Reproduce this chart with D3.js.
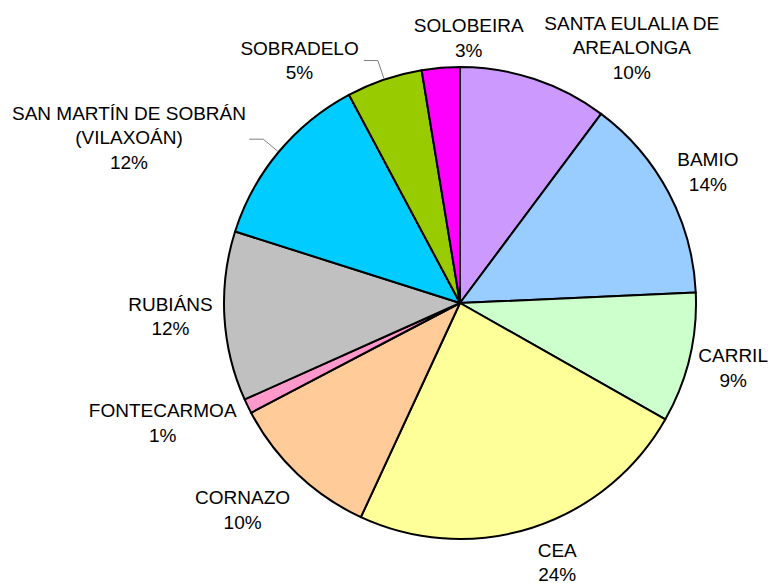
<!doctype html>
<html>
  <head>
    <meta charset="utf-8">
    <title>Pie</title>
    <script src="https://cdn.jsdelivr.net/npm/d3@7"></script>
    <style>
      body { margin: 0; background: #fff; }
      text { font-family: "Liberation Sans", Arial, sans-serif; font-size: 19px; fill: #000; }
    </style>
  </head>
  <body>
    <script>
      const names = [
        'SANTA EULALIA DE\nAREALONGA', 'BAMIO', 'CARRIL', 'CEA', 'CORNAZO',
        'FONTECARMOA', 'RUBIÁNS', 'SAN MARTÍN DE SOBRÁN\n(VILAXOÁN)', 'SOBRADELO', 'SOLOBEIRA'
      ];
      const values = [10.2, 14.1, 8.9, 23.7, 10.4, 1.0, 11.6, 12.3, 5.2, 2.6];
      const colors = [
        '#CC99FF', '#99CCFF', '#CCFFCC', '#FFFF99', '#FFCC99',
        '#FF99CC', '#C0C0C0', '#00CCFF', '#99CC00', '#FF00FF'
      ];
      // labels that get a leader line
      const leaders = ['SAN MARTÍN DE SOBRÁN\n(VILAXOÁN)', 'SOBRADELO'];

      const width = 769, height = 583;
      const cx = 460, cy = 303, r = 236;
      const labelR = 285;
      const lineH = 24.7;
      // label nudges (px) from the point at mid-angle, radius labelR
      const nudge = [[82, 15], [-4, 2], [-4, -2], [10, -12], [-21, 0],
                     [-41, -5], [-5, -3], [-112, 17], [-69, 27], [32, 19]];

      const svg = d3.select('body').append('svg')
          .attr('width', width)
          .attr('height', height);

      const total = d3.sum(values);
      const pie = d3.pie().sort(null).value(d => d);
      const arcs = pie(values);
      const arc = d3.arc().innerRadius(0).outerRadius(r);

      const g = svg.append('g').attr('transform', `translate(${cx},${cy})`);

      g.selectAll('path')
        .data(arcs)
        .enter().append('path')
          .attr('d', arc)
          .attr('fill', (d, i) => colors[i])
          .attr('stroke', '#000')
          .attr('stroke-width', 2)
          .attr('stroke-linejoin', 'round');

      const mid = d => (d.startAngle + d.endAngle) / 2;
      const polar = (a, rad) => [rad * Math.sin(a), -rad * Math.cos(a)];

      // leader lines
      arcs.forEach((d, i) => {
        if (!leaders.includes(names[i])) return;
        const a = mid(d);
        const p0 = polar(a, r + 1);
        const p1 = polar(a, r + 20);
        const p2 = [p1[0] - 14, p1[1]];
        g.append('path')
          .attr('d', d3.line()([p0, p1, p2]))
          .attr('fill', 'none')
          .attr('stroke', '#808080')
          .attr('stroke-width', 1);
      });

      // labels
      arcs.forEach((d, i) => {
        const base = polar(mid(d), labelR);
        const x = base[0] + nudge[i][0];
        const y = base[1] + nudge[i][1];
        const lines = names[i].split('\n').concat([Math.round(values[i] / total * 100) + '%']);
        const t = g.append('text').attr('text-anchor', 'middle');
        lines.forEach((s, k) => {
          t.append('tspan')
            .attr('x', x)
            .attr('y', y + (k - (lines.length - 1) / 2) * lineH + 6.8)
            .text(s);
        });
      });
    </script>
  </body>
</html>
